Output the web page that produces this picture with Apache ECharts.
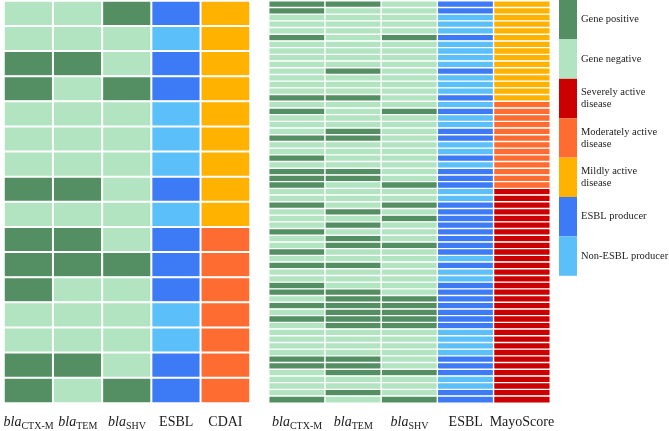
<!DOCTYPE html>
<html>
<head>
<meta charset="utf-8">
<script src="https://cdn.jsdelivr.net/npm/echarts@6/dist/echarts.min.js"></script>
<style>html,body{margin:0;padding:0;background:#fff}#c{width:669px;height:431px}</style>
</head>
<body>
<div id="c"></div>
<script>
// ---- Data (1 = positive / ESBL producer, 0 = negative / non-producer) ----
var leftLabels = ['blaCTX-M', 'blaTEM', 'blaSHV', 'ESBL', 'CDAI'];
var rightLabels = ['blaCTX-M', 'blaTEM', 'blaSHV', 'ESBL', 'MayoScore'];

var leftCTX  = [0,0,1,1,0,0,0,1,0,1,1,1,0,0,1,1];
var leftTEM  = [0,0,1,0,0,0,0,1,0,1,1,0,0,0,1,0];
var leftSHV  = [1,0,0,1,0,0,0,0,0,0,1,0,0,0,0,1];
var leftESBL = [1,0,1,1,0,0,0,1,0,1,1,1,0,0,1,1];
var leftCDAI = ['Mild','Mild','Mild','Mild','Mild','Mild','Mild','Mild','Mild',
                'Moderate','Moderate','Moderate','Moderate','Moderate','Moderate','Moderate'];

var rightCTX  = [1,1,0,0,0,1,0,0,0,0, 0,0,0,0,1,0,1,0,0,0, 1,0,0,1,0,1,1,1,0,0, 1,0,0,0,1,0,0,1,0,1, 0,0,1,1,0,1,0,1,0,0, 0,0,0,1,1,0,0,0,0,1];
var rightTEM  = [1,0,0,0,0,0,0,0,0,0, 1,0,0,0,1,0,0,0,0,1, 1,0,0,0,0,1,1,0,0,0, 0,1,0,1,0,1,1,0,0,1, 0,0,0,1,1,1,1,1,1,0, 0,0,0,1,1,1,0,0,1,0];
var rightSHV  = [0,0,0,0,0,1,0,0,0,0, 0,0,0,0,0,0,1,0,0,0, 0,0,0,0,0,0,0,1,0,0, 1,0,1,0,0,0,1,0,0,0, 0,0,0,0,1,1,1,1,1,0, 0,0,0,0,0,1,0,0,0,1];
var rightESBL = [1,1,0,0,0,1,0,0,0,0, 1,0,0,0,1,0,1,0,0,1, 1,0,0,1,0,1,1,1,0,0, 1,1,1,1,1,1,1,1,0,1, 0,0,1,1,1,1,1,1,1,0, 0,0,0,1,1,1,0,0,1,1];
var rightMayo = ['Mild','Mild','Mild','Mild','Mild','Mild','Mild','Mild','Mild','Mild',
                 'Mild','Mild','Mild','Mild','Mild',
                 'Moderate','Moderate','Moderate','Moderate','Moderate','Moderate','Moderate',
                 'Moderate','Moderate','Moderate','Moderate','Moderate','Moderate',
                 'Severe','Severe','Severe','Severe','Severe','Severe','Severe','Severe',
                 'Severe','Severe','Severe','Severe','Severe','Severe','Severe','Severe',
                 'Severe','Severe','Severe','Severe','Severe','Severe','Severe','Severe',
                 'Severe','Severe','Severe','Severe','Severe','Severe','Severe','Severe'];

var legendLabels = ['Gene positive', 'Gene negative', 'Severely active\ndisease',
                    'Moderately active\ndisease', 'Mildly active\ndisease',
                    'ESBL producer', 'Non-ESBL producer'];
var legendColors = ['#548F64', '#B3E4C1', '#CC0000', '#FF6C32', '#FFB200', '#3C7BF5', '#5BC0FA'];

// ---- Codes for visual mapping ----
var geneCode = function (v) { return v ? 0 : 1; };
var scoreCode = { 'Severe': 2, 'Moderate': 3, 'Mild': 4 };
var esblCode = function (v) { return v ? 5 : 6; };

function buildData(cols) {
  var out = [];
  var n = cols[0].length;
  for (var r = 0; r < n; r++) {
    out.push([0, r, geneCode(cols[0][r])]);
    out.push([1, r, geneCode(cols[1][r])]);
    out.push([2, r, geneCode(cols[2][r])]);
    out.push([3, r, esblCode(cols[3][r])]);
    out.push([4, r, scoreCode[cols[4][r]]]);
  }
  return out;
}
var leftData = buildData([leftCTX, leftTEM, leftSHV, leftESBL, leftCDAI]);
var rightData = buildData([rightCTX, rightTEM, rightSHV, rightESBL, rightMayo]);

function rowCats(n) { var a = []; for (var i = 0; i < n; i++) a.push(String(i + 1)); return a; }

var labelFmt = function (v) {
  if (v.indexOf('bla') === 0) return '{i|bla}{s|' + v.slice(3) + '}';
  return '{n|' + v + '}';
};
var richStyle = {
  i: { fontFamily: 'Liberation Serif', fontStyle: 'italic', fontSize: 14, color: '#1a1a1a', lineHeight: 18, verticalAlign: 'middle' },
  s: { fontFamily: 'Liberation Serif', fontSize: 10, color: '#1a1a1a', lineHeight: 11, verticalAlign: 'bottom' },
  n: { fontFamily: 'Liberation Serif', fontSize: 14, color: '#1a1a1a', lineHeight: 18, verticalAlign: 'middle' }
};

function xAx(idx, labels) {
  return {
    type: 'category', gridIndex: idx, data: labels,
    axisLine: { show: false }, axisTick: { show: false }, splitLine: { show: false },
    axisLabel: { formatter: labelFmt, rich: richStyle, margin: 10, interval: 0 }
  };
}
function yAx(idx, n) {
  return { type: 'category', gridIndex: idx, data: rowCats(n), inverse: true, show: false };
}

var pieces = legendLabels.map(function (l, i) { return { value: i, label: l, color: legendColors[i] }; });

var option = {
  animation: false,
  backgroundColor: '#fff',
  grid: [
    { left: 4, top: 1, width: 246, height: 404 },
    { left: 269, top: 1, width: 281, height: 404 }
  ],
  xAxis: [xAx(0, leftLabels), xAx(1, rightLabels)],
  yAxis: [yAx(0, leftCTX.length), yAx(1, rightCTX.length)],
  visualMap: {
    type: 'piecewise', dimension: 2, seriesIndex: [0, 1],
    pieces: pieces, orient: 'vertical', inverse: true, align: 'left',
    left: 559, top: 0, padding: 0,
    itemWidth: 18, itemHeight: 39.4, itemGap: 0, itemSymbol: 'rect',
    textGap: 4, selectedMode: false, hoverLink: false,
    textStyle: { fontFamily: 'Liberation Serif', fontSize: 10.5, color: '#222', lineHeight: 12 }
  },
  series: [
    { type: 'heatmap', xAxisIndex: 0, yAxisIndex: 0, data: leftData,
      itemStyle: { borderColor: '#fff', borderWidth: 2 }, emphasis: { disabled: true } },
    { type: 'heatmap', xAxisIndex: 1, yAxisIndex: 1, data: rightData,
      itemStyle: { borderColor: '#fff', borderWidth: 1.4 }, emphasis: { disabled: true } }
  ]
};
var chart = echarts.init(document.getElementById('c'), null, { renderer: 'canvas' });
chart.setOption(option);
</script>
</body>
</html>
